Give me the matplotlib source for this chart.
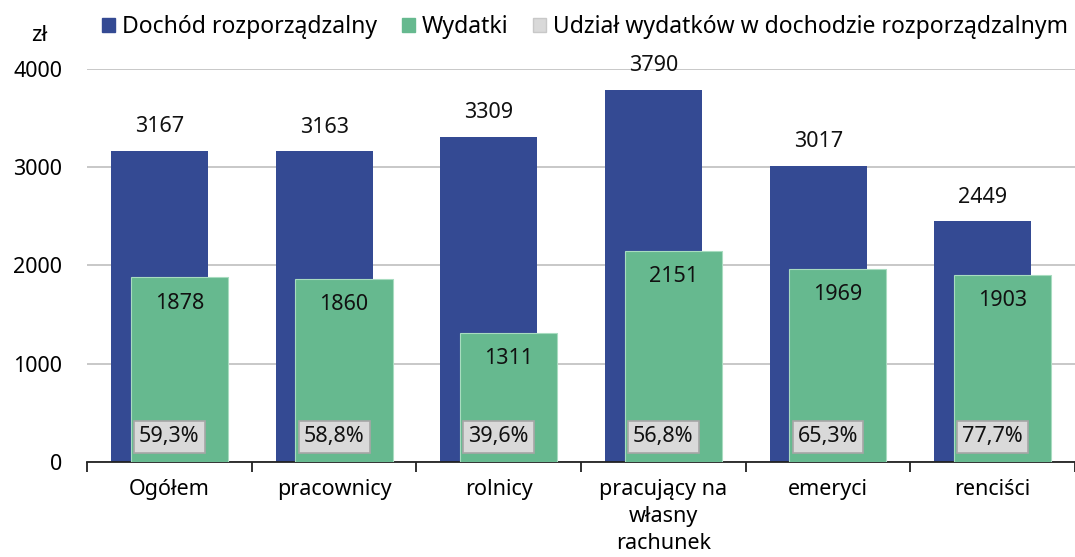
import numpy as np
import matplotlib
matplotlib.use('Agg')
import matplotlib.pyplot as plt
from matplotlib.patches import Patch

plt.rcParams['font.family'] = ['Noto Sans', 'DejaVu Sans']

categories = ['Ogółem', 'pracownicy', 'rolnicy', 'pracujący na\nwłasny\nrachunek', 'emeryci', 'renciści']
dochod = [3167, 3163, 3309, 3790, 3017, 2449]
wydatki = [1878, 1860, 1311, 2151, 1969, 1903]
udzial = ['59,3%', '58,8%', '39,6%', '56,8%', '65,3%', '77,7%']

blue = '#344a93'
green = '#66b98f'
grey = '#d9d9d9'
fs = 15.5

fig = plt.figure(figsize=(10.75, 5.57), dpi=100)
ax = fig.add_axes([0.081, 0.1706, 0.919, 0.7055])

x = np.arange(len(categories))
w = 0.59
off = 0.06
ax.bar(x - off, dochod, w, color=blue, zorder=2)
ax.bar(x + off, wydatki, w, color=green, edgecolor='#a8dcc0', linewidth=0.8, zorder=3)

for i in range(len(categories)):
    ax.text(x[i] - off, dochod[i] + 245, str(dochod[i]), ha='center', va='center',
            fontsize=fs, color='#111111', zorder=5)
    ax.text(x[i] + off, wydatki[i] - 260, str(wydatki[i]), ha='center', va='center',
            fontsize=fs, color='#111111', zorder=5)
    ax.text(x[i], 255, udzial[i], ha='center', va='center', fontsize=fs, color='#111111',
            zorder=6, bbox=dict(boxstyle='square,pad=0.24', fc=grey, ec='#a6a6a6', lw=1.2))

ax.set_xlim(-0.5, len(categories) - 0.5)
ax.set_ylim(0, 4000)
ax.set_yticks([0, 1000, 2000, 3000, 4000])
ax.tick_params(axis='y', length=0, labelsize=fs, pad=18)
ax.yaxis.grid(True, color='#bfbfbf', linewidth=1.2, zorder=0)
ax.set_axisbelow(True)

ax.set_xticks(x)
ax.set_xticklabels(categories, fontsize=fs, linespacing=1.4)
ax.tick_params(axis='x', length=0, pad=12)
ax.set_xticks(np.arange(len(categories) + 1) - 0.5, minor=True)
ax.tick_params(axis='x', which='minor', length=7, width=1.3, color='#222222')

for s in ['top', 'right', 'left']:
    ax.spines[s].set_visible(False)
ax.spines['bottom'].set_linewidth(1.3)
ax.spines['bottom'].set_color('#222222')

fig.text(0.037, 0.937, 'zł', fontsize=16, ha='center', va='center')

handles = [Patch(color=blue, label='Dochód rozporządzalny'),
           Patch(color=green, label='Wydatki'),
           Patch(fc=grey, ec='#c8c8c8', label='Udział wydatków w dochodzie rozporządzalnym')]
fig.legend(handles=handles, loc='center left', bbox_to_anchor=(0.095, 0.951), ncol=3,
           frameon=False, fontsize=16.5, handlelength=0.55, handleheight=0.55,
           handletextpad=0.3, columnspacing=1.1, borderaxespad=0, borderpad=0)

fig.savefig('out.png', dpi=100)
